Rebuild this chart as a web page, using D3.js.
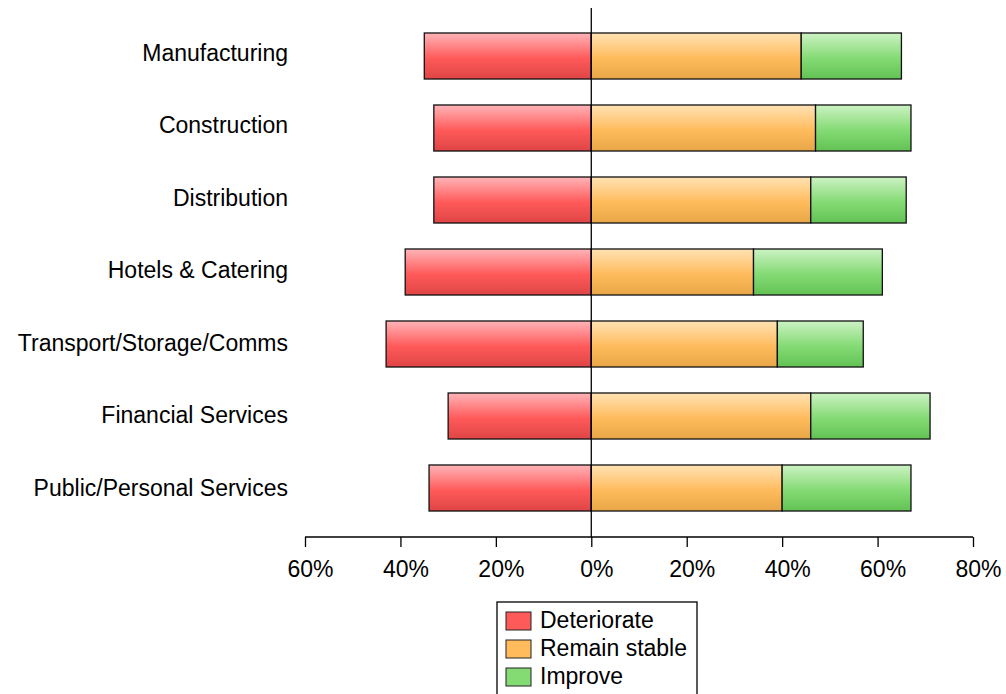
<!DOCTYPE html>
<html>
<head>
<meta charset="utf-8">
<script src="https://cdn.jsdelivr.net/npm/d3@7/dist/d3.min.js"></script>
<style>
  html, body { margin: 0; padding: 0; background: #fff; }
  svg { display: block; font-family: "Liberation Sans", Arial, sans-serif; }
</style>
</head>
<body>
<svg id="chart" width="1006" height="694"></svg>
<script>
// Expected change in business conditions by sector (share of respondents, %)
const sectors = ["Manufacturing", "Construction", "Distribution", "Hotels & Catering",
                 "Transport/Storage/Comms", "Financial Services", "Public/Personal Services"];
const deteriorate  = [35, 33, 33, 39, 43, 30, 34];
const remainStable = [44, 47, 46, 34, 39, 46, 40];
const improve      = [21, 20, 20, 27, 18, 25, 27];
const seriesNames  = ["Deteriorate", "Remain stable", "Improve"];
const xTicks       = [-60, -40, -20, 0, 20, 40, 60, 80];

const svg = d3.select("#chart");

const x = d3.scaleLinear().domain([-60, 80]).range([305, 973]);
const y = d3.scaleBand().domain(sectors).range([20, 524])
  .paddingInner(0.361).paddingOuter(0.1805);

// vertical gradients for each series
const defs = svg.append("defs");
const palettes = [
  ["#ffb4b8", "#ff5a5a", "#e04444"],
  ["#ffe2b4", "#ffbb5c", "#e8a648"],
  ["#ccf2c4", "#84db74", "#62c254"]
];
palettes.forEach((p, i) => {
  const g = defs.append("linearGradient").attr("id", "grad" + i)
    .attr("x1", 0).attr("y1", 0).attr("x2", 0).attr("y2", 1);
  g.append("stop").attr("offset", "0%").attr("stop-color", p[0]);
  g.append("stop").attr("offset", "55%").attr("stop-color", p[1]);
  g.append("stop").attr("offset", "100%").attr("stop-color", p[2]);
});

// stacked segments: deteriorate to the left of zero, the rest to the right
const segments = [];
sectors.forEach((s, i) => {
  segments.push({ s, k: 0, x0: -deteriorate[i], x1: 0 });
  segments.push({ s, k: 1, x0: 0, x1: remainStable[i] });
  segments.push({ s, k: 2, x0: remainStable[i], x1: remainStable[i] + improve[i] });
});

svg.append("g").selectAll("rect").data(segments).join("rect")
  .attr("x", d => x(d.x0))
  .attr("y", d => y(d.s))
  .attr("width", d => x(d.x1) - x(d.x0))
  .attr("height", y.bandwidth())
  .attr("fill", d => `url(#grad${d.k})`)
  .attr("stroke", "#111")
  .attr("stroke-width", 1.3);

// zero line
svg.append("line")
  .attr("x1", x(0)).attr("x2", x(0))
  .attr("y1", 8).attr("y2", 537)
  .attr("stroke", "#000").attr("stroke-width", 1.3);

// value axis
const xAxis = d3.axisBottom(x).tickValues(xTicks)
  .tickFormat(d => Math.abs(d) + "%").tickSize(10).tickPadding(14);
const ax = svg.append("g").attr("transform", "translate(0,537)").call(xAxis);
ax.select(".domain").attr("stroke", "#000").attr("stroke-width", 1.3)
  .attr("d", `M${x(-60)},0H${x(80)}`);
ax.selectAll(".tick line").attr("stroke", "#000").attr("stroke-width", 1.3);
ax.selectAll(".tick text").attr("font-size", "23px").attr("fill", "#000")
  .attr("dx", 5)
  .attr("font-family", "Liberation Sans, Arial, sans-serif");

// category labels
svg.append("g").selectAll("text").data(sectors).join("text")
  .attr("x", 288)
  .attr("y", (d, i) => y(d) + y.bandwidth() / 2 + 4.5 + i * 0.5)
  .attr("text-anchor", "end")
  .attr("font-size", "23px")
  .attr("fill", "#000")
  .text(d => d);

// legend
const lg = svg.append("g");
lg.append("rect").attr("x", 497).attr("y", 602).attr("width", 200).attr("height", 100)
  .attr("fill", "#fff").attr("stroke", "#000").attr("stroke-width", 1.3);
const swatch = ["#ff5a5a", "#ffbb5c", "#84db74"];
seriesNames.forEach((n, i) => {
  lg.append("rect").attr("x", 506).attr("y", 612 + i * 28).attr("width", 25).attr("height", 18)
    .attr("fill", swatch[i]).attr("stroke", "#222").attr("stroke-width", 1);
  lg.append("text").attr("x", 540).attr("y", 628 + i * 28)
    .attr("font-size", "23px").attr("fill", "#000").text(n);
});
</script>
</body>
</html>
